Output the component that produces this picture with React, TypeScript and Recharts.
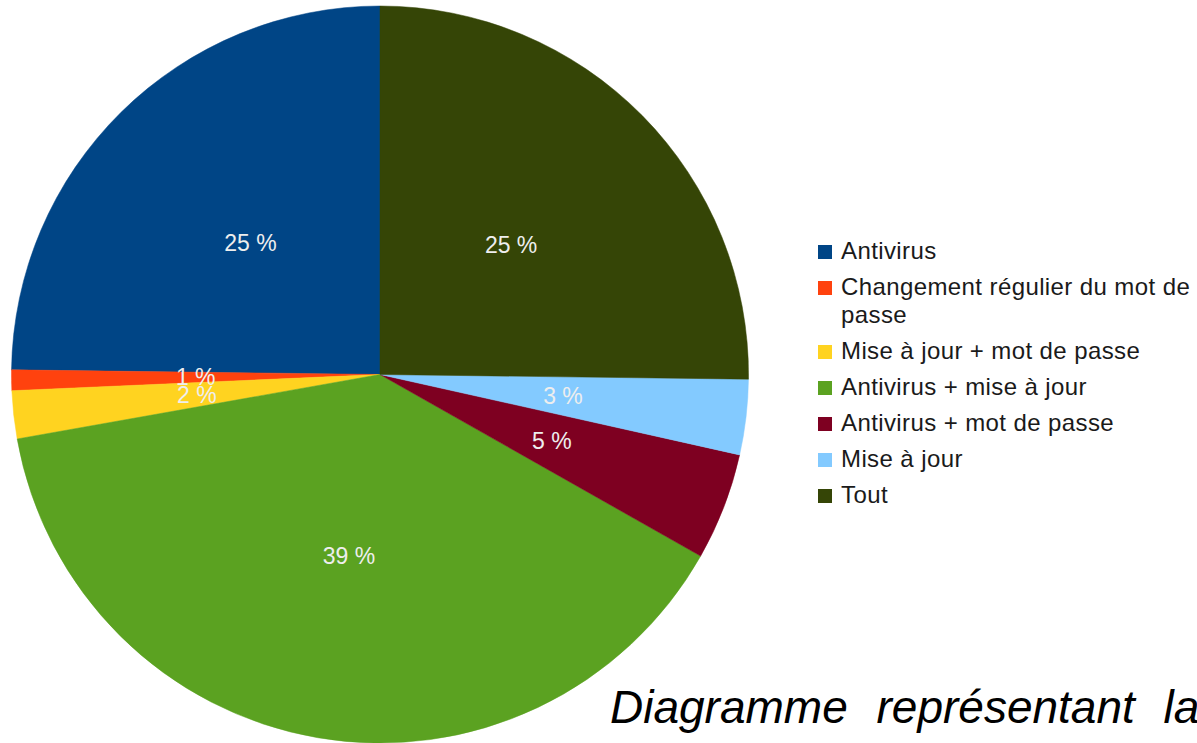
import React from 'react';
import { PieChart, Pie, Cell, Legend } from 'recharts';

const categories = [
  'Antivirus',
  'Changement régulier du mot de passe',
  'Mise à jour + mot de passe',
  'Antivirus + mise à jour',
  'Antivirus + mot de passe',
  'Mise à jour',
  'Tout',
];
const values = [24.8, 0.9, 2.1, 39.0, 4.7, 3.3, 25.2];
const colors = ['#004586', '#ff420e', '#ffd320', '#5ba221', '#7e0021', '#83caff', '#354506'];
const caption = 'Diagramme représentant la';

const data = categories.map((name, i) => ({ name, value: values[i] }));

const RADIAN = Math.PI / 180;

const renderLabel = (props: any) => {
  const { cx, cy, midAngle, outerRadius, percent } = props;
  const r = outerRadius * 0.5;
  const x = cx + r * Math.cos(-midAngle * RADIAN);
  const y = cy + r * Math.sin(-midAngle * RADIAN);
  return (
    <text
      x={x}
      y={y}
      fill="#eeeeee"
      textAnchor="middle"
      dominantBaseline="central"
      fontSize={23}
      fontFamily="Liberation Sans, Arial, sans-serif"
    >
      {`${Math.round(percent * 100)} %`}
    </text>
  );
};

const renderLegend = () => (
  <div style={{ fontFamily: 'Liberation Sans, Arial, sans-serif', fontSize: 24, color: '#1a1a1a', letterSpacing: 0.4 }}>
    {data.map((d, i) => (
      <div key={d.name} style={{ display: 'flex', alignItems: 'flex-start', marginBottom: 8, lineHeight: '28px' }}>
        <div style={{ width: 14, height: 14, background: colors[i], marginTop: 8, marginRight: 9, flex: '0 0 auto' }} />
        <div style={{ width: 362 }}>{d.name}</div>
      </div>
    ))}
  </div>
);

export default function App() {
  return (
    <div style={{ position: 'absolute', left: 0, top: 0, width: 1197, height: 743, overflow: 'hidden', background: '#fff' }}>
      <PieChart width={1197} height={743} margin={{ top: 0, right: 0, bottom: 0, left: 0 }}>
        <Pie
          data={data}
          dataKey="value"
          nameKey="name"
          cx={380}
          cy={374.5}
          outerRadius={368.5}
          startAngle={90}
          endAngle={450}
          stroke="none"
          label={renderLabel}
          labelLine={false}
          isAnimationActive={false}
        >
          {data.map((d, i) => (
            <Cell key={d.name} fill={colors[i]} stroke={colors[i]} strokeWidth={0.5} />
          ))}
        </Pie>
        <Legend
          layout="vertical"
          align="right"
          verticalAlign="middle"
          content={renderLegend}
          wrapperStyle={{ left: 818, top: 237, width: 390, right: 'auto', bottom: 'auto' }}
        />
      </PieChart>
      <div
        style={{
          position: 'absolute',
          left: 610,
          top: 684,
          fontFamily: 'Liberation Sans, Arial, sans-serif',
          fontStyle: 'italic',
          fontSize: 46,
          lineHeight: '46px',
          wordSpacing: 16,
          whiteSpace: 'nowrap',
          color: '#000',
        }}
      >
        {caption}
      </div>
    </div>
  );
}
